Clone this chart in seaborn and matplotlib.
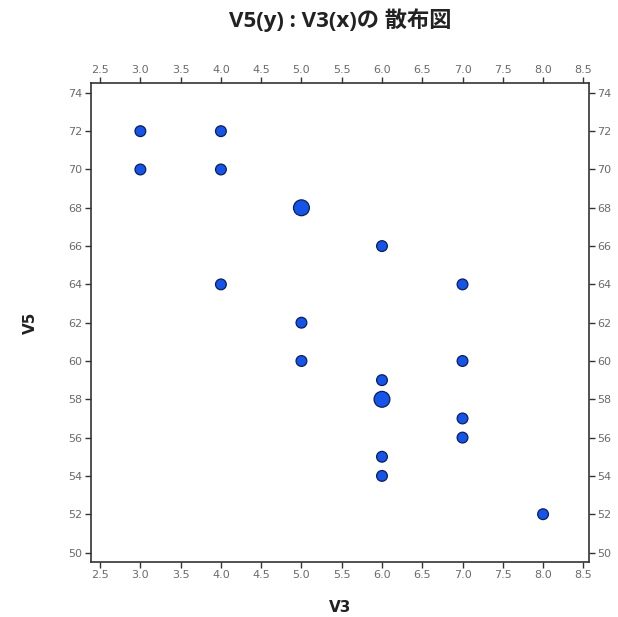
import matplotlib
matplotlib.use("Agg")
import matplotlib.pyplot as plt
import seaborn as sns
import pandas as pd

# Observations (V3, V5); repeated pairs are drawn as larger markers
v3 = [3, 3, 4, 4, 4, 5, 5, 5, 5, 6, 6, 6, 6, 6, 6, 7, 7, 7, 7, 8]
v5 = [72, 70, 72, 70, 64, 68, 68, 62, 60, 66, 59, 58, 58, 55, 54, 64, 60, 57, 56, 52]

xticks = [2.5, 3.0, 3.5, 4.0, 4.5, 5.0, 5.5, 6.0, 6.5, 7.0, 7.5, 8.0, 8.5]
yticks = [50, 52, 54, 56, 58, 60, 62, 64, 66, 68, 70, 72, 74]

df = pd.DataFrame({"V3": v3, "V5": v5})
agg = df.groupby(["V3", "V5"]).size().reset_index(name="n")

sns.set_style("white")
plt.rcParams["font.family"] = ["DejaVu Sans", "Noto Sans CJK JP"]

fig = plt.figure(figsize=(6.18, 6.17), dpi=100)
ax = fig.add_axes([0.147, 0.089, 0.806, 0.776])

sns.scatterplot(data=agg, x="V3", y="V5", size="n", sizes={1: 60, 2: 130},
                color="#1554e6", edgecolor="#0b1f5c", linewidth=0.9,
                legend=False, ax=ax, zorder=3)

ax.set_xlim(2.385, 8.57)
ax.set_ylim(49.5, 74.5)
ax.set_xticks(xticks)
ax.set_xticklabels([f"{t:.1f}" for t in xticks])
ax.set_yticks(yticks)

for s in ax.spines.values():
    s.set_color("#333333")
    s.set_linewidth(1.2)

ax.tick_params(axis="both", which="major", direction="out", length=4, width=1,
               color="#333333", labelcolor="#6a6a6a", labelsize=8,
               top=True, right=True, labeltop=True, labelright=True,
               bottom=True, left=True, pad=2)

ax.set_xlabel("V3", fontsize=11, fontweight="bold", color="#222222", labelpad=14)
ax.set_ylabel("V5", fontsize=11, fontweight="bold", color="#222222", labelpad=22)
fig.text(0.55, 0.967, "V5(y) : V3(x)の 散布図", fontsize=16, fontweight="bold",
         color="#222222", ha="center", va="center",
         family=["Open Sans", "Noto Sans CJK JP"])

fig.savefig("out.png", dpi=100)
